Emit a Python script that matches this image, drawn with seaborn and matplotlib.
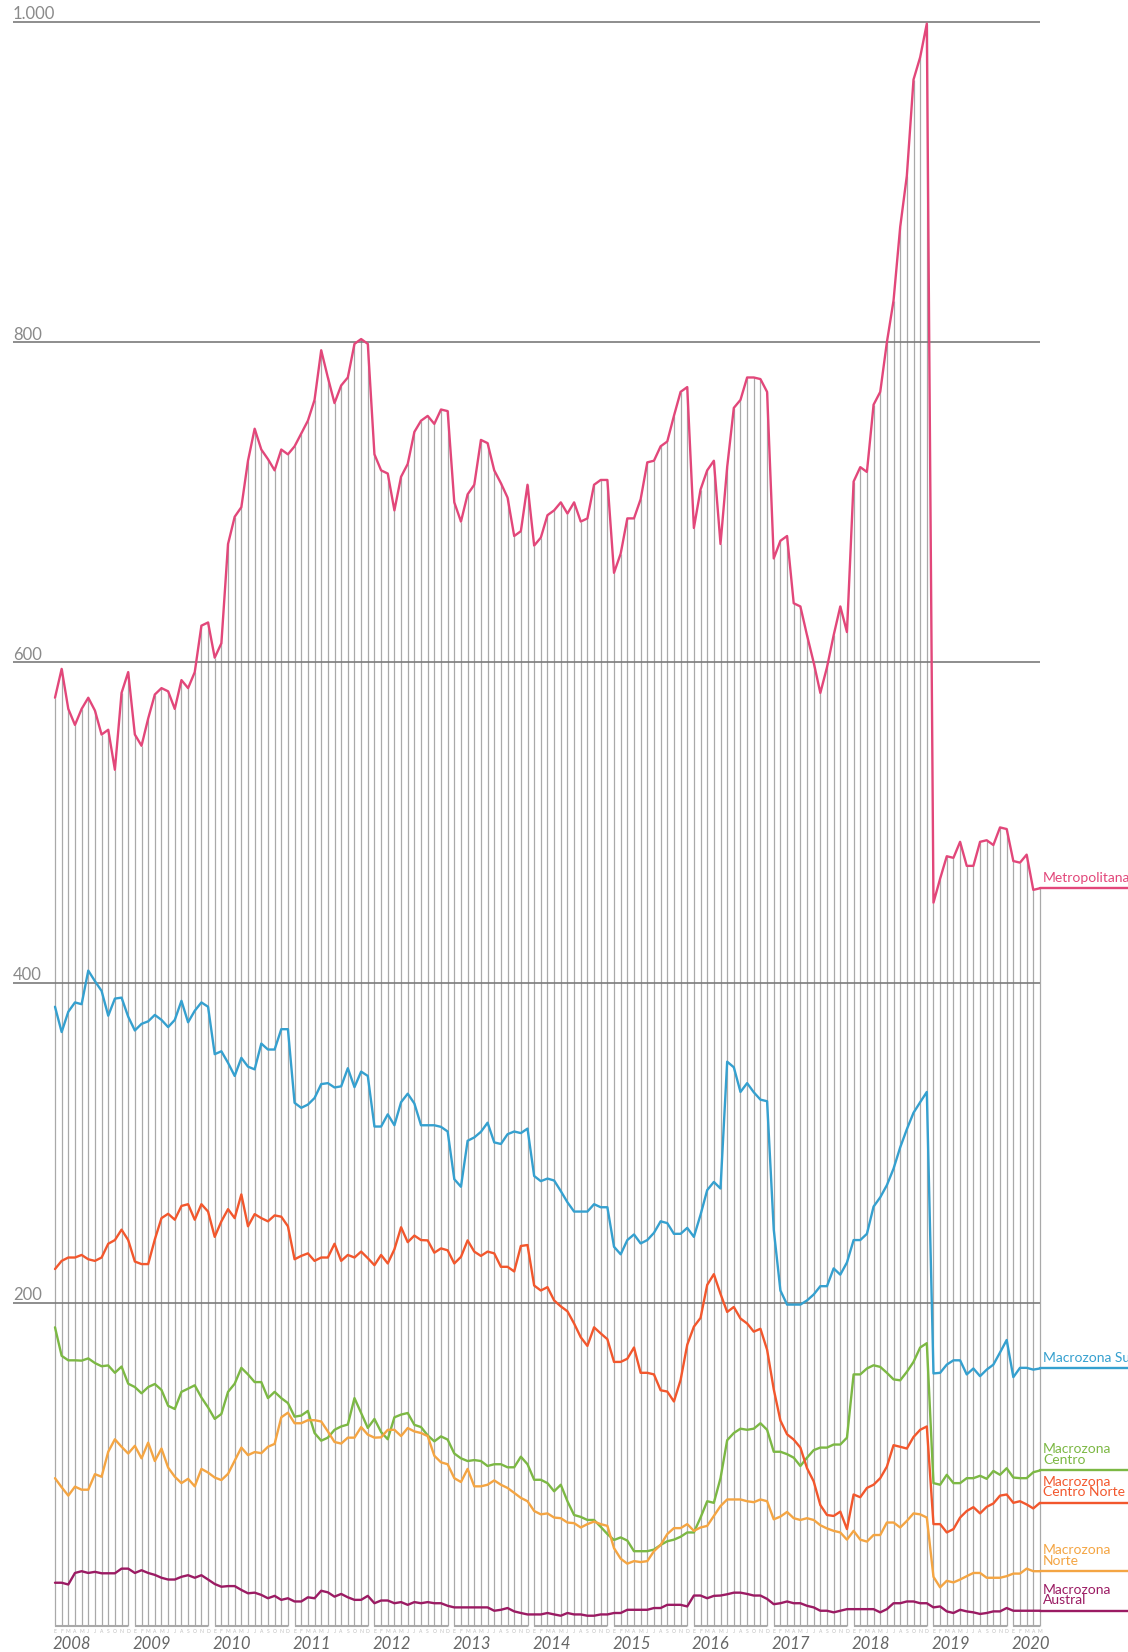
import pandas as pd
import matplotlib.pyplot as plt
import seaborn as sns

# Monthly series, Jan 2008 - May 2020 (149 months)
years = list(range(2008, 2021))
month_letters = ["E", "F", "M", "A", "M", "J", "J", "A", "S", "O", "N", "D"]

metropolitana = [
    578, 596, 571, 561, 571, 578, 570, 555, 558, 533,
    581, 594, 555, 548, 565, 580, 584, 582, 571, 589,
    584, 594, 623, 625, 603, 612, 674, 691, 697, 726,
    746, 733, 727, 720, 733, 730, 735, 743, 751, 764,
    795, 778, 762, 773, 778, 799, 802, 799, 730, 720,
    718, 695, 716, 724, 744, 751, 754, 749, 758, 757,
    700, 688, 705, 711, 739, 737, 720, 712, 703, 679,
    682, 711, 673, 678, 692, 695, 700, 693, 700, 688,
    690, 711, 714, 714, 656, 668, 690, 690, 702, 725,
    726, 735, 738, 754, 769, 772, 684, 708, 720, 726,
    674, 722, 759, 764, 778, 778, 777, 769, 665, 676,
    679, 637, 635, 617, 600, 581, 597, 617, 635, 619,
    713, 722, 719, 761, 769, 800, 826, 872, 904, 964,
    978, 999, 450, 465, 479, 478, 488, 473, 473, 488,
    489, 486, 497, 496, 476, 475, 480, 458, 459,
]
sur = [
    385, 369.2, 381.9, 387.7, 386.6, 407.6, 401, 394.9, 379.4, 390.1,
    390.7, 378.8, 370.2, 374.3, 375.9, 379.9, 376.8, 372.3, 376.8, 388.7,
    375.3, 382.5, 387.7, 385, 355.4, 357.2, 350, 341.8, 353.1, 347.6,
    345.9, 362, 358.3, 358.3, 371, 371, 325, 321.9, 323.9, 328,
    336.7, 337.3, 334.6, 335.3, 346.6, 334.8, 344.5, 341.8, 310.2, 310.2,
    317.8, 311, 325.4, 330.7, 324.6, 311, 311, 311, 310, 307.1,
    277.3, 272.6, 301.3, 303.4, 306.9, 312.6, 300.3, 299.3, 305.4, 307.1,
    306.1, 308.9, 279.3, 276.1, 277.7, 276.5, 269.9, 262.9, 257.1, 257.1,
    257.1, 261.7, 259.8, 259.8, 235.1, 230.4, 239.3, 242.8, 237.2, 239.3,
    243.8, 251, 249.9, 243.2, 243.2, 246.9, 241.3, 255.1, 270.5, 275.6,
    271.5, 350.7, 347.2, 331.8, 337.3, 331.6, 327, 326, 245.8, 207.8,
    199, 199, 199, 201.6, 205.3, 210.5, 210.5, 221.6, 217.7, 225.3,
    239.3, 239.3, 243.2, 260.2, 266, 273.6, 283.9, 297.2, 308.5, 318.8,
    325.4, 331.8, 156, 156.4, 161.5, 164.2, 164.2, 155.4, 159.1, 154.3,
    158.4, 161.5, 169.1, 176.9, 153.7, 159.5, 159.5, 158.4, 159.1,
]
centro_norte = [
    221.2, 226.3, 228.4, 228.4, 230, 227.3, 226.3, 228.4, 237, 239.3,
    245.8, 239.3, 225.9, 224.3, 224.3, 239.7, 253, 255.7, 252, 260.6,
    261.7, 252, 261.7, 257.1, 241.3, 251, 258.6, 253, 267.8, 247.9,
    255.5, 253, 251, 254.7, 253.9, 247.9, 227.3, 229.4, 231, 226.3,
    228.4, 228.4, 237, 226.3, 230, 228.4, 232.1, 228, 223.6, 230,
    224.7, 233.5, 247.3, 238, 242.1, 239.3, 239.1, 231.4, 234.1, 232.9,
    224.7, 228.8, 239.1, 232.1, 229.4, 232.1, 231, 222.6, 222.6, 219.7,
    235.6, 236.2, 210.9, 207.8, 209.9, 201.6, 197.9, 194.8, 187.2, 178.6,
    173.2, 184.8, 181, 177.4, 163.2, 163.2, 165.2, 172.2, 156.4, 156.4,
    155.4, 145.5, 144.7, 138.5, 151.9, 173.9, 185.2, 190.7, 211.3, 218,
    205.7, 194.4, 197.5, 190.3, 187.2, 182.1, 183.9, 170.8, 146.1, 126.6,
    118, 114.7, 109.7, 96.8, 88.6, 73.8, 67.6, 67, 69.7, 58.8,
    80.4, 78.7, 84.5, 86.5, 90.6, 97.8, 111.2, 110.2, 109.1, 116.3,
    120.8, 122.9, 61.9, 61.9, 56.7, 58.8, 66, 70.1, 72.5, 68.6,
    72.7, 74.8, 79.7, 80.4, 75.2, 76.2, 74.2, 71.7, 75.2,
]
centro = [
    184.8, 167, 164.2, 164.2, 164, 165.4, 162.5, 160.5, 161, 156.4,
    160.3, 149.6, 147.5, 143.6, 147.5, 149.4, 145.7, 135.8, 133.8, 144.5,
    146.5, 148.6, 141, 134.8, 127.6, 130.7, 144.5, 149.6, 159.5, 155.4,
    150.6, 150.6, 140.6, 144.5, 140.6, 137.5, 129, 129.7, 132.6, 118.8,
    114, 115.9, 120.8, 122.9, 124.1, 140.6, 131.3, 122, 127.6, 119.4,
    114.9, 128.6, 130.3, 131.3, 123.9, 122.5, 117.3, 113.6, 116.7, 114.7,
    106, 103, 101.3, 101.9, 101.3, 98.2, 99.3, 99.3, 97.4, 97.4,
    104, 99.3, 89.6, 89.6, 87.5, 82.4, 86.5, 76.2, 67.6, 66.4,
    64.5, 64.5, 60.2, 55.7, 52, 53.6, 51.6, 45, 45, 45,
    46, 48.9, 51.2, 52.2, 54, 56.7, 56.7, 66, 76.2, 75.2,
    90.6, 114.3, 118.8, 121.5, 120.8, 121.5, 124.9, 120.8, 107.1, 107.1,
    105.6, 103.4, 98.2, 103.4, 108.1, 109.7, 109.7, 111.6, 111.6, 115.9,
    155.4, 155.4, 159.1, 161.1, 160.1, 156.4, 152.3, 151.7, 157, 163.2,
    172.2, 174.9, 87.5, 86.5, 92.7, 87.5, 87.5, 90.6, 90.6, 92.1,
    90.2, 95.1, 92.7, 96.8, 91, 90.6, 90.6, 94.3, 95.4,
]
norte = [
    90.6, 84.9, 79.7, 85.3, 83.4, 83.4, 93.1, 91.5, 107.1, 114.9,
    110.2, 106, 110.8, 103, 112.8, 101.3, 109.1, 97.2, 91.5, 87.5,
    90.2, 85.5, 96.4, 94.1, 91, 89.4, 93.3, 101.5, 109.7, 105,
    106.9, 106.2, 110.2, 112, 128.6, 131.5, 124.9, 124.9, 126.8, 126.8,
    126, 119.8, 113.2, 112.2, 115.9, 115.9, 122.5, 117.8, 115.9, 116.1,
    120.8, 120.8, 116.9, 121.9, 119.8, 118.8, 116.9, 104.6, 100.5, 99.3,
    90.6, 88.2, 96.4, 85.5, 85.5, 86.5, 89.2, 86.5, 84.5, 81.4,
    78.3, 76.2, 70.1, 68, 68.6, 66, 65.6, 62.9, 62.5, 59.8,
    61.9, 63.5, 61.9, 60.8, 46.9, 40.3, 37.2, 38.8, 38.2, 38.8,
    45, 48.9, 55.7, 59.4, 59.4, 61.9, 57.7, 59.8, 60.8, 67,
    73.2, 77.3, 77.3, 77.3, 76.2, 75.6, 77.3, 76.2, 64.9, 66.6,
    69.5, 65.6, 64.5, 65.6, 64.5, 61.2, 59.2, 57.7, 56.7, 52.2,
    57.7, 52.2, 51, 55.1, 55.1, 62.9, 62.9, 59.8, 63.9, 68.6,
    68, 66, 29, 22.4, 26.5, 25.5, 27.3, 29.4, 31.4, 31.4,
    28.4, 28.4, 28.4, 29.4, 31, 31, 34.1, 32.5, 32.5,
]
austral = [
    25.3, 25.3, 24.2, 31.4, 32.5, 31.4, 32.1, 31.2, 31.2, 31.2,
    34.1, 34.1, 31.4, 33.1, 31.4, 30.2, 28.4, 27.3, 27.3, 29,
    30, 28.4, 30, 27.3, 24.5, 22.8, 23.2, 23.2, 20.8, 18.7,
    19.1, 17.7, 15.6, 17.1, 14.6, 15.6, 13.6, 13.6, 16.2, 15.6,
    20.3, 19.3, 16.6, 18.3, 16.2, 14.6, 14.6, 17.1, 12.5, 14.2,
    14.2, 12.5, 13.2, 11.5, 13.2, 12.5, 13.2, 12.5, 12.5, 10.9,
    9.9, 9.9, 9.9, 9.9, 9.9, 9.9, 7.8, 8.4, 9.5, 7.4,
    6.4, 5.5, 5.5, 5.5, 6.4, 5.5, 4.7, 6.4, 5.5, 5.5,
    4.7, 4.7, 5.5, 5.5, 6.4, 6.4, 8.4, 8.4, 8.4, 8.4,
    9.5, 9.5, 11.5, 11.5, 11.5, 10.5, 17.3, 17.3, 15.6, 17.1,
    17.3, 18.1, 19.1, 19.1, 18.3, 17.3, 17.3, 15.2, 11.9, 12.5,
    13.6, 12.5, 12.5, 10.9, 9.9, 7.8, 7.8, 6.8, 7.8, 8.8,
    8.8, 8.8, 8.8, 8.8, 6.8, 8.8, 12.5, 12.5, 13.6, 13.6,
    12.5, 12.5, 9.9, 10.5, 7.4, 6.4, 8.4, 7.4, 6.8, 5.8,
    6.4, 7.4, 7.4, 9.5, 7.8, 7.8, 7.8, 7.8, 7.8,
]

series = {
    "Metropolitana": metropolitana,
    "Macrozona Sur": sur,
    "Macrozona\nCentro": centro,
    "Macrozona\nCentro Norte": centro_norte,
    "Macrozona\nNorte": norte,
    "Macrozona\nAustral": austral,
}
colors = {
    "Metropolitana": "#e2477a",
    "Macrozona Sur": "#35a0cf",
    "Macrozona\nCentro": "#7cb844",
    "Macrozona\nCentro Norte": "#f2572d",
    "Macrozona\nNorte": "#f4a543",
    "Macrozona\nAustral": "#9b1b63",
}
yticks = [200, 400, 600, 800, 1000]
ytick_labels = ["200", "400", "600", "800", "1.000"]

n = len(metropolitana)
rows = []
for name, vals in series.items():
    for i, v in enumerate(vals):
        rows.append({"mes": i, "valor": v, "serie": name})
df = pd.DataFrame(rows)

sns.set_style("white")
plt.rcParams["font.family"] = ["Lato", "DejaVu Sans"]

fig = plt.figure(figsize=(11.28, 16.52), dpi=100)
ax = fig.add_axes([0, 0, 1, 1])
ax.set_xlim(-8.264, 161.23)
ax.set_ylim(-17.96, 1013.74)
ax.axis("off")

# monthly hatching up to the Metropolitana line
ax.vlines(range(n), -1.8, metropolitana, color="#a9a9a9", lw=0.9, zorder=1)

# gridlines and y labels
ax.hlines(yticks, -6.31, n - 1, color="#7a7a7a", lw=1.2, zorder=2)
for t, lab in zip(yticks, ytick_labels):
    ax.text(-6.31, t + 1.6, lab, ha="left", va="baseline", fontsize=12,
            color="#8a8a8a")

# lines
sns.lineplot(data=df, x="mes", y="valor", hue="serie", palette=colors,
             legend=False, lw=1.7, estimator=None, sort=False, ax=ax,
             zorder=3)

# right-hand labels with flat extension
for name, vals in series.items():
    last = vals[-1]
    ax.plot([n - 1, 162], [last, last], color=colors[name], lw=1.7, zorder=3)
    ax.text(148.45, last + 2.8, name, color=colors[name], fontsize=10,
            ha="left", va="bottom", linespacing=0.85)

# x axis: month letters, year baselines, year labels
for k, y in enumerate(years):
    start = 12 * k
    end = min(start + 11, n - 1)
    ax.hlines(-1.8, start, end, color="#a9a9a9", lw=1.5)
    for m in range(start, end + 1):
        ax.text(m, -4.9, month_letters[m - start], ha="center", va="center",
                fontsize=3.6, color="#bdbdbd")
    ax.text(start - 0.3, -12.9, str(y), ha="left", va="center", fontsize=12,
            style="italic", color="#666666")

fig.savefig("out.png", dpi=100)
